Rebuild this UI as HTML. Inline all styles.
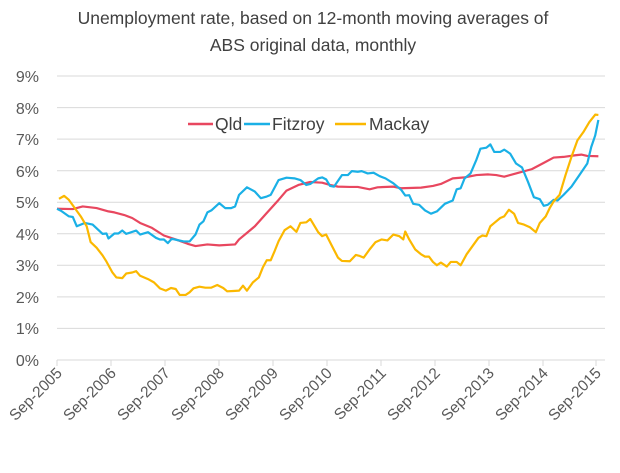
<!DOCTYPE html>
<html><head><meta charset="utf-8"><style>
body{margin:0;background:#fff}
text{font-family:"Liberation Sans",sans-serif;fill:#595959}
</style></head><body>
<svg width="620" height="468" viewBox="0 0 620 468" xmlns="http://www.w3.org/2000/svg">
<text x="313" y="24" font-size="17.5" text-anchor="middle" style="fill:#404040">Unemployment rate, based on 12-month moving averages of</text>
<text x="313" y="51" font-size="17.5" text-anchor="middle" style="fill:#404040">ABS original data, monthly</text>
<g stroke="#d9d9d9" stroke-width="1">
<line x1="57" x2="605" y1="76" y2="76"/><line x1="57" x2="605" y1="107.6" y2="107.6"/>
<line x1="57" x2="605" y1="139.1" y2="139.1"/><line x1="57" x2="605" y1="170.7" y2="170.7"/>
<line x1="57" x2="605" y1="202.2" y2="202.2"/><line x1="57" x2="605" y1="233.8" y2="233.8"/>
<line x1="57" x2="605" y1="265.3" y2="265.3"/><line x1="57" x2="605" y1="296.9" y2="296.9"/>
<line x1="57" x2="605" y1="328.4" y2="328.4"/><line x1="57" x2="605" y1="360" y2="360"/>
<line x1="57" x2="57" y1="360" y2="366"/><line x1="111" x2="111" y1="360" y2="366"/>
<line x1="165" x2="165" y1="360" y2="366"/><line x1="219" x2="219" y1="360" y2="366"/>
<line x1="273" x2="273" y1="360" y2="366"/><line x1="327" x2="327" y1="360" y2="366"/>
<line x1="381" x2="381" y1="360" y2="366"/><line x1="435" x2="435" y1="360" y2="366"/>
<line x1="489" x2="489" y1="360" y2="366"/><line x1="543" x2="543" y1="360" y2="366"/>
<line x1="596" x2="596" y1="360" y2="366"/>
</g>
<g font-size="16" text-anchor="end">
<text x="39" y="82">9%</text><text x="39" y="114">8%</text><text x="39" y="145">7%</text>
<text x="39" y="177">6%</text><text x="39" y="208">5%</text><text x="39" y="240">4%</text>
<text x="39" y="271">3%</text><text x="39" y="303">2%</text><text x="39" y="334">1%</text>
<text x="39" y="366">0%</text>
</g>
<g font-size="15.5" text-anchor="end">
<text transform="translate(63,374) rotate(-45)">Sep-2005</text>
<text transform="translate(117,374) rotate(-45)">Sep-2006</text>
<text transform="translate(171,374) rotate(-45)">Sep-2007</text>
<text transform="translate(225,374) rotate(-45)">Sep-2008</text>
<text transform="translate(279,374) rotate(-45)">Sep-2009</text>
<text transform="translate(333,374) rotate(-45)">Sep-2010</text>
<text transform="translate(387,374) rotate(-45)">Sep-2011</text>
<text transform="translate(441,374) rotate(-45)">Sep-2012</text>
<text transform="translate(495,374) rotate(-45)">Sep-2013</text>
<text transform="translate(549,374) rotate(-45)">Sep-2014</text>
<text transform="translate(602,374) rotate(-45)">Sep-2015</text>
</g>
<g transform="matrix(0.39574,0,0,0.33023,1.596,61.14)" fill="none" stroke-width="2.2" stroke-linejoin="round">
<polyline vector-effect="non-scaling-stroke" stroke="#e8475f" points="140,447 180,448 205,440 240,445 270,455 285,458 310,466 330,475 350,490 380,505 410,528 440,540 470,553 490,560 520,555 550,558 590,555 600,540 620,520 640,500 670,460 700,420 720,392 750,375 780,366 810,368 830,375 850,380 880,381 900,381 930,388 950,382 990,380 1010,385 1060,383 1090,378 1110,372 1140,355 1170,352 1200,345 1230,343 1250,345 1270,350 1300,340 1340,327 1370,308 1395,292 1420,290 1450,285 1465,283 1480,287 1508,288"/>
<polyline vector-effect="non-scaling-stroke" stroke="#1ab0e6" points="140,447 150,453 170,470 180,472 190,500 210,490 230,495 255,523 265,522 270,537 285,522 295,522 305,513 315,523 340,513 350,525 370,518 390,535 400,540 410,540 420,551 430,538 445,542 460,546 475,546 490,525 500,495 510,485 520,458 530,452 550,430 565,445 580,445 590,440 600,405 620,382 640,395 655,415 670,410 680,405 700,360 720,353 740,355 755,360 770,375 780,372 800,355 810,352 820,358 830,378 840,380 860,345 875,345 885,333 900,335 910,333 925,340 940,338 955,348 970,355 990,370 1010,390 1020,407 1030,406 1040,432 1055,435 1070,452 1085,462 1100,455 1120,432 1140,422 1150,388 1160,385 1170,355 1185,340 1200,298 1210,265 1225,262 1235,252 1245,275 1260,275 1270,268 1285,280 1300,310 1315,322 1330,365 1345,412 1360,418 1370,438 1380,435 1395,420 1405,422 1420,405 1440,380 1460,345 1480,310 1490,260 1500,225 1508,178"/>
<polyline vector-effect="non-scaling-stroke" stroke="#fbb800" points="145,417 158,408 170,420 185,445 200,470 215,500 225,548 240,565 255,588 265,607 280,640 290,655 305,657 315,643 330,640 340,636 350,650 370,660 385,670 400,688 415,695 428,687 440,690 450,708 465,708 475,700 485,688 500,683 515,686 530,686 545,678 560,687 570,697 585,696 600,695 610,680 620,695 635,670 650,655 660,625 670,603 680,603 690,575 700,545 715,512 730,500 745,517 755,490 770,488 780,478 800,518 810,530 820,525 835,560 850,595 860,605 880,606 895,587 905,590 915,595 930,570 945,548 960,540 975,543 990,525 1005,530 1015,540 1020,516 1030,540 1045,570 1060,585 1070,592 1080,592 1090,608 1100,618 1110,610 1125,622 1135,608 1150,608 1160,618 1175,585 1190,560 1205,535 1215,528 1225,530 1235,500 1245,490 1260,475 1270,470 1282,450 1295,462 1305,490 1320,495 1335,503 1350,518 1360,490 1375,470 1385,445 1395,425 1410,405 1425,345 1440,290 1455,240 1470,215 1485,185 1500,162 1508,163"/>
</g>
<g stroke-width="2.5">
<line x1="188" x2="213" y1="124" y2="124" stroke="#e8475f"/>
<line x1="244" x2="270" y1="124" y2="124" stroke="#1ab0e6"/>
<line x1="335" x2="366" y1="124" y2="124" stroke="#fbb800"/>
</g>
<g font-size="17.5">
<text x="215" y="130" style="fill:#404040">Qld</text>
<text x="272" y="130" style="fill:#404040">Fitzroy</text>
<text x="369" y="130" style="fill:#404040">Mackay</text>
</g>
</svg>
</body></html>
